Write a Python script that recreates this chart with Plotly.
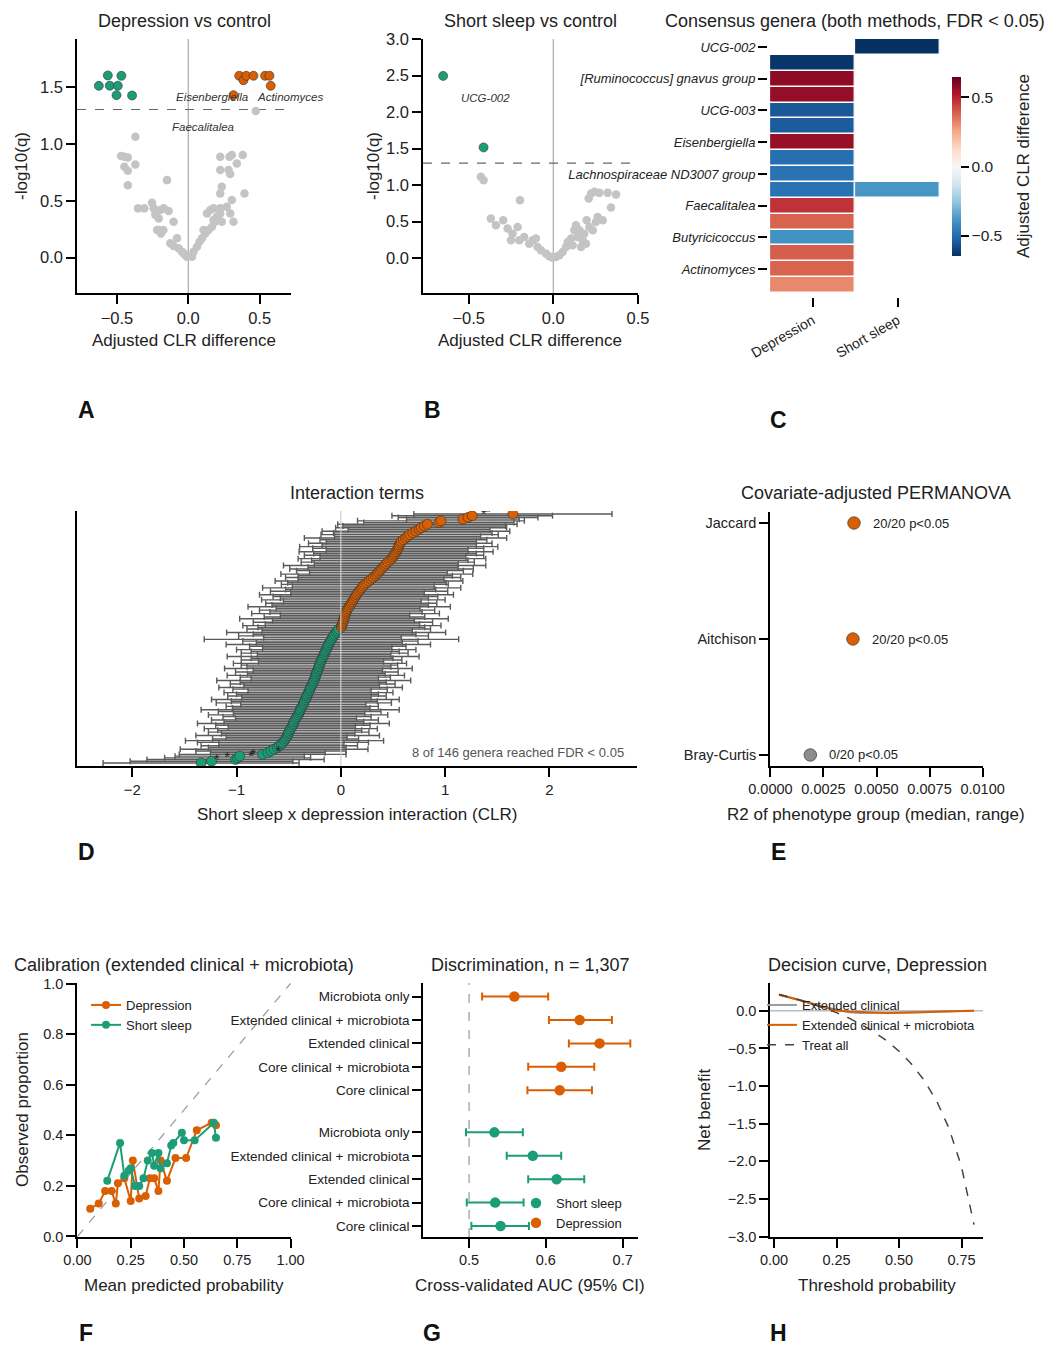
import plotly.graph_objects as go
import plotly.colors as pc

W, H = 1054, 1355
FONT = "Liberation Sans, Arial, sans-serif"
GREEN, ORANGE, GREY = "#1b9e77", "#d95f02", "#c4c4c4"

# ---------------- Panel A: Depression vs control volcano ----------------
a_grey_x = [-0.371, -0.471, -0.448, -0.424, -0.448, -0.424, -0.371, -0.424, -0.149, -0.352, -0.308, -0.254,
            -0.242, -0.23, -0.196, -0.172, -0.138, -0.207, -0.23, -0.103, -0.207, -0.175, -0.219, -0.191,
            -0.126, -0.079, -0.103, -0.068, -0.044, -0.021, -0.009, -0.033, 0.026, 0.037, 0.061, 0.079,
            0.096, 0.119, 0.142, 0.107, 0.166, 0.189, 0.2, 0.224, 0.154, 0.131, 0.177, 0.224, 0.27, 0.235,
            0.224, 0.235, 0.317, 0.294, 0.224, 0.224, 0.289, 0.305, 0.282, 0.294, 0.34, 0.382, 0.394, 0.305,
            0.177, 0.473]
a_grey_y = [1.061, 0.892, 0.886, 0.880, 0.798, 0.763, 0.819, 0.637, 0.681, 0.433, 0.433, 0.482,
            0.433, 0.389, 0.418, 0.433, 0.409, 0.345, 0.374, 0.316, 0.243, 0.243, 0.243, 0.213,
            0.126, 0.170, 0.102, 0.082, 0.053, 0.023, 0.009, 0.038, 0.009, 0.053, 0.096, 0.14,
            0.170, 0.213, 0.243, 0.243, 0.272, 0.316, 0.36, 0.389, 0.418, 0.389, 0.433, 0.433, 0.447, 0.316,
            0.564, 0.623, 0.316, 0.389, 0.769, 0.886, 0.886, 0.901, 0.769, 0.734, 0.827, 0.901, 0.564, 0.506,
            0.33, 1.287]
a_down_x = [-0.627, -0.564, -0.55, -0.494, -0.469, -0.503, -0.394]
a_down_y = [1.509, 1.60, 1.51, 1.51, 1.597, 1.427, 1.424]
a_up_x = [0.317, 0.357, 0.387, 0.406, 0.457, 0.538, 0.569, 0.578]
a_up_y = [1.427, 1.597, 1.558, 1.597, 1.597, 1.597, 1.597, 1.509]
a_labels = ["Eisenbergiella", "Actinomyces", "Faecalitalea", "Hungatella"]
a_label_x = [0.168, 0.71, 0.105, 0.91]
a_label_y = [1.41, 1.41, 1.15, 1.15]

# ---------------- Panel B: Short sleep vs control volcano ----------------
b_grey_x = [-0.428, -0.412, -0.197, -0.369, -0.339, -0.296, -0.270, -0.241, -0.211, -0.25, -0.201, -0.172,
            -0.122, -0.103, -0.142, -0.093, -0.073, -0.043, -0.024, -0.004, 0.016, 0.036, 0.055, 0.075,
            0.085, 0.105, 0.124, 0.134, 0.154, 0.144, 0.174, 0.183, 0.197, 0.213, 0.233, 0.252, 0.292,
            0.209, 0.223, 0.243, 0.272, 0.321, 0.371, 0.341, 0.262, 0.164, 0.114, 0.193]
b_grey_y = [1.113, 1.067, 0.792, 0.54, 0.449, 0.517, 0.403, 0.334, 0.426, 0.243, 0.243, 0.289,
            0.243, 0.266, 0.197, 0.151, 0.105, 0.06, 0.023, 0.005, 0.014, 0.037, 0.082, 0.151,
            0.220, 0.266, 0.38, 0.449, 0.38, 0.289, 0.243, 0.334, 0.517, 0.426, 0.38, 0.495, 0.517,
            0.815, 0.884, 0.907, 0.893, 0.893, 0.870, 0.692, 0.563, 0.151, 0.174, 0.197]
b_down_x = [-0.651, -0.412]
b_down_y = [2.497, 1.516]
b_labels = ["UCG-002", "Lachnospiraceae UCG-010"]
b_label_x = [-0.40, -0.94]
b_label_y = [2.2, 1.22]

# ---------------- Panel C: consensus heatmap ----------------
heat_genera = ["UCG-002", "Lachnospiraceae FCS020 group", "[Ruminococcus] gnavus group", "Hungatella",
               "UCG-003", "Coprococcus", "Eisenbergiella", "Ruminococcaceae UCG-014",
               "Lachnospiraceae ND3007 group", "Lachnospiraceae UCG-010", "Faecalitalea",
               "Erysipelatoclostridium", "Butyricicoccus", "Flavonifractor", "Actinomyces", "Sellimonas"]
heat_groups = ["Depression", "Short sleep"]
heat_dep = [None, -0.63, 0.58, 0.57, -0.55, -0.54, 0.56, -0.49, -0.48, -0.48, 0.47, 0.38, -0.39, 0.39, 0.38, 0.31]
heat_ss = [-0.65, None, None, None, None, None, None, None, None, -0.38, None, None, None, None, None, None]

# ---------------- Panel D: interaction terms ----------------
d_est = [-1.34, -1.24, -1.01, -0.99, -0.97, -0.75, -0.70, -0.67, -0.64, -0.61,
         -0.59, -0.57, -0.555, -0.54, -0.53, -0.52, -0.51, -0.505, -0.50, -0.49,
         -0.48, -0.47, -0.46, -0.455, -0.45, -0.44, -0.43, -0.42, -0.41, -0.40,
         -0.395, -0.39, -0.38, -0.37, -0.36, -0.355, -0.35, -0.34, -0.33, -0.325,
         -0.32, -0.31, -0.30, -0.295, -0.29, -0.28, -0.27, -0.265, -0.26, -0.25,
         -0.245, -0.24, -0.235, -0.23, -0.22, -0.215, -0.21, -0.205, -0.20, -0.19,
         -0.185, -0.18, -0.17, -0.16, -0.155, -0.15, -0.14, -0.13, -0.125, -0.12,
         -0.11, -0.10, -0.09, -0.08, -0.07, -0.06, -0.045, -0.035, -0.02, 0.005,
         0.01, 0.015, 0.02, 0.025, 0.03, 0.035, 0.04, 0.045, 0.05, 0.06,
         0.07, 0.08, 0.09, 0.10, 0.11, 0.12, 0.13, 0.14, 0.15, 0.16,
         0.175, 0.19, 0.20, 0.215, 0.23, 0.25, 0.27, 0.29, 0.31, 0.33,
         0.345, 0.36, 0.375, 0.39, 0.405, 0.42, 0.435, 0.45, 0.47, 0.49,
         0.50, 0.51, 0.52, 0.53, 0.54, 0.55, 0.555, 0.56, 0.57, 0.58,
         0.60, 0.62, 0.64, 0.66, 0.69, 0.72, 0.75, 0.77, 0.80, 0.83,
         0.94, 0.96, 1.17, 1.22, 1.26, 1.65]
d_hw = [0.94, 0.78, 0.85, 0.70, 0.62, 0.80, 0.55, 0.72, 0.90, 0.66,
        0.75, 0.60, 0.82, 0.95, 0.70, 0.58, 0.88, 0.64, 0.77, 0.69,
        0.83, 0.61, 0.74, 0.92, 0.67, 0.80, 0.58, 0.71, 0.86, 0.63,
        0.78, 0.95, 0.66, 0.73, 0.60, 0.84, 0.70, 0.90, 0.62, 0.76,
        0.68, 0.81, 0.59, 0.74, 0.88, 0.65, 0.79, 0.70, 0.93, 0.61,
        0.72, 0.85, 0.66, 0.78, 0.62, 0.90, 0.69, 0.75, 0.83, 0.60,
        0.77, 0.68, 0.92, 0.64, 0.80, 0.71, 0.86, 0.62, 0.75, 0.98,
        0.70, 0.84, 1.22, 0.66, 0.91, 0.78, 1.05, 0.72, 0.88, 0.80,
        0.95, 0.74, 0.86, 0.68, 1.00, 0.77, 0.62, 0.90, 0.73, 0.84,
        0.69, 0.97, 0.75, 0.82, 0.66, 0.88, 0.71, 0.79, 0.93, 0.64,
        0.85, 0.72, 0.95, 0.68, 0.80, 0.76, 0.90, 0.70, 0.84, 0.74,
        0.92, 0.66, 0.80, 0.88, 0.72, 0.97, 0.69, 0.83, 0.75, 0.90,
        0.70, 0.86, 0.78, 0.93, 0.68, 0.82, 0.95, 0.74, 0.88, 0.72,
        0.80, 0.97, 0.70, 0.85, 0.76, 0.90, 0.68, 0.82, 0.78, 0.86,
        0.72, 0.80, 0.54, 0.67, 0.77, 0.95]
d_sig_rows = [0, 1, 2, 3, 5, 143, 144, 145]
d_note = "8 of 146 genera reached FDR < 0.05"

# ---------------- Panel E: PERMANOVA ----------------
e_metrics = ["Bray-Curtis", "Aitchison", "Jaccard"]
e_median = [0.00188, 0.00389, 0.00394]
e_min = [0.00176, 0.00372, 0.00378]
e_max = [0.00200, 0.00405, 0.00410]
e_nsig = [0, 20, 20]
e_nrep = 20

# ---------------- Panel F: calibration ----------------
f_dep_x = [0.06, 0.10, 0.13, 0.16, 0.18, 0.19, 0.22, 0.25, 0.26, 0.29, 0.32, 0.34, 0.36, 0.38, 0.39, 0.42,
           0.46, 0.51, 0.56, 0.63, 0.65]
f_dep_y = [0.11, 0.13, 0.18, 0.18, 0.13, 0.21, 0.23, 0.14, 0.30, 0.15, 0.16, 0.23, 0.23, 0.18, 0.30, 0.22,
           0.31, 0.31, 0.42, 0.45, 0.44]
f_ss_x = [0.14, 0.20, 0.22, 0.24, 0.25, 0.27, 0.29, 0.31, 0.33, 0.35, 0.36, 0.38, 0.39, 0.42, 0.44, 0.45,
          0.49, 0.50, 0.55, 0.64, 0.65]
f_ss_y = [0.22, 0.37, 0.24, 0.26, 0.27, 0.20, 0.20, 0.23, 0.30, 0.33, 0.28, 0.33, 0.27, 0.29, 0.36, 0.37,
          0.41, 0.38, 0.38, 0.45, 0.39]

# ---------------- Panel G: discrimination ----------------
g_models = ["Core clinical", "Core clinical + microbiota", "Extended clinical",
            "Extended clinical + microbiota", "Microbiota only"]
g_dep_auc = [0.618, 0.620, 0.670, 0.644, 0.559]
g_dep_lo = [0.576, 0.577, 0.630, 0.604, 0.517]
g_dep_hi = [0.660, 0.663, 0.710, 0.686, 0.603]
g_ss_auc = [0.541, 0.534, 0.614, 0.583, 0.533]
g_ss_lo = [0.503, 0.497, 0.577, 0.549, 0.496]
g_ss_hi = [0.578, 0.571, 0.650, 0.620, 0.570]

# ---------------- Panel H: decision curve ----------------
h_thr = [0.02, 0.05, 0.10, 0.15, 0.20, 0.25, 0.30, 0.35, 0.40, 0.45, 0.50, 0.55, 0.60, 0.65, 0.70, 0.75, 0.80]
h_ext = [0.216, 0.19, 0.15, 0.10, 0.05, 0.01, -0.02, -0.03, -0.03, -0.03, -0.02, -0.02, -0.02, -0.01, -0.01,
         -0.01, 0.0]
h_extmic = [0.215, 0.19, 0.145, 0.095, 0.045, 0.005, -0.01, -0.02, -0.025, -0.03, -0.025, -0.02, -0.02,
            -0.015, -0.01, -0.005, 0.0]
h_all = [0.216, 0.192, 0.147, 0.096, 0.040, -0.024, -0.097, -0.182, -0.280, -0.396, -0.536, -0.707, -0.920,
         -1.194, -1.560, -2.072, -2.840]

# =====================================================================
def xd(a, b):
    return [a / W, b / W]


def yd(top, bottom):
    return [1 - bottom / H, 1 - top / H]


def ax(**kw):
    d = dict(showline=True, linecolor="black", linewidth=1.6, ticks="outside", ticklen=9, tickwidth=1.8,
             tickcolor="black", showgrid=False, zeroline=False, mirror=False, automargin=False,
             tickfont=dict(size=15, color="#222", family=FONT))
    d.update(kw)
    return d


fig = go.Figure()

# Panel A
fig.add_trace(go.Scatter(x=a_grey_x, y=a_grey_y, mode="markers", marker=dict(size=8.5, color=GREY),
                         xaxis="x", yaxis="y", showlegend=False))
fig.add_trace(go.Scatter(x=a_down_x, y=a_down_y, mode="markers",
                         marker=dict(size=9, color=GREEN, line=dict(width=0.6, color="#333")),
                         xaxis="x", yaxis="y", showlegend=False))
fig.add_trace(go.Scatter(x=a_up_x, y=a_up_y, mode="markers",
                         marker=dict(size=9, color=ORANGE, line=dict(width=0.6, color="#333")),
                         xaxis="x", yaxis="y", showlegend=False))

# Panel B
fig.add_trace(go.Scatter(x=b_grey_x, y=b_grey_y, mode="markers", marker=dict(size=8.5, color=GREY),
                         xaxis="x2", yaxis="y2", showlegend=False))
fig.add_trace(go.Scatter(x=b_down_x, y=b_down_y, mode="markers",
                         marker=dict(size=9, color=GREEN, line=dict(width=0.6, color="#333")),
                         xaxis="x2", yaxis="y2", showlegend=False))

# Panel C
rdbu_r = pc.diverging.RdBu[::-1]
cscale = [[i / (len(rdbu_r) - 1), c] for i, c in enumerate(rdbu_r)]
z = [[heat_dep[i], heat_ss[i]] for i in range(len(heat_genera))]
fig.add_trace(go.Heatmap(
    z=z, x=[0, 1], y=list(range(len(heat_genera))), colorscale=cscale, zmin=-0.645, zmax=0.645,
    xgap=1.5, ygap=1.5, xaxis="x3", yaxis="y3", hoverongaps=False,
    colorbar=dict(x=952 / W, xanchor="left", xpad=0, y=1 - 166.5 / H, yanchor="middle", ypad=0,
                  len=179, lenmode="pixels", thickness=9, thicknessmode="pixels", outlinewidth=0,
                  ticks="outside", ticklen=8, tickwidth=1.8, tickcolor="black",
                  tickvals=[-0.5, 0, 0.5], ticktext=["\u22120.5", "0.0", "0.5"],
                  tickfont=dict(size=15.5, color="#222", family=FONT))))

# Panel D
rows = list(range(len(d_est)))
fig.add_trace(go.Scatter(x=d_est, y=rows, mode="markers", marker=dict(size=2, color="rgba(0,0,0,0)"),
                         error_x=dict(type="data", array=d_hw, color="#5a5a5a", thickness=1.4, width=3),
                         xaxis="x4", yaxis="y4", showlegend=False, hoverinfo="skip"))
neg = [i for i in rows if d_est[i] < 0]
pos = [i for i in rows if d_est[i] >= 0]
fig.add_trace(go.Scatter(x=[d_est[i] for i in neg], y=neg, mode="markers",
                         marker=dict(size=10, color=GREEN, line=dict(width=0.6, color="#333")),
                         xaxis="x4", yaxis="y4", showlegend=False))
fig.add_trace(go.Scatter(x=[d_est[i] for i in pos], y=pos, mode="markers",
                         marker=dict(size=10, color=ORANGE, line=dict(width=0.6, color="#333")),
                         xaxis="x4", yaxis="y4", showlegend=False))
fig.add_trace(go.Scatter(x=[d_est[i] + 0.15 for i in d_sig_rows], y=[i + 1.5 for i in d_sig_rows],
                         mode="text", text=["*"] * len(d_sig_rows), textposition="middle center",
                         textfont=dict(size=15, color="#222", family=FONT),
                         xaxis="x4", yaxis="y4", showlegend=False))

# Panel E
e_y = list(range(len(e_metrics)))
e_col = [ORANGE if n > e_nrep / 2 else "#8c8c8c" for n in e_nsig]
fig.add_trace(go.Scatter(x=e_median, y=e_y, mode="markers",
                         marker=dict(size=12.5, color=e_col, line=dict(width=0.8, color="#444")),
                         error_x=dict(type="data", array=[e_max[i] - e_median[i] for i in e_y],
                                      arrayminus=[e_median[i] - e_min[i] for i in e_y],
                                      color="#666", thickness=1.5, width=0),
                         xaxis="x5", yaxis="y5", showlegend=False))

# Panel F
fig.add_trace(go.Scatter(x=f_dep_x, y=f_dep_y, mode="lines+markers", name="Depression",
                         line=dict(color=ORANGE, width=2), marker=dict(size=8, color=ORANGE),
                         xaxis="x6", yaxis="y6", legend="legend"))
fig.add_trace(go.Scatter(x=f_ss_x, y=f_ss_y, mode="lines+markers", name="Short sleep",
                         line=dict(color=GREEN, width=2), marker=dict(size=8, color=GREEN),
                         xaxis="x6", yaxis="y6", legend="legend"))

# Panel G
g_pos_ss = [float(i) for i in range(len(g_models))]
g_pos_dep = [len(g_models) + 0.8 + i for i in range(len(g_models))]
fig.add_trace(go.Scatter(x=g_dep_auc, y=g_pos_dep, mode="markers", name="Depression",
                         marker=dict(size=10.5, color=ORANGE),
                         error_x=dict(type="data", array=[g_dep_hi[i] - g_dep_auc[i] for i in range(5)],
                                      arrayminus=[g_dep_auc[i] - g_dep_lo[i] for i in range(5)],
                                      color=ORANGE, thickness=2, width=4),
                         xaxis="x7", yaxis="y7", legend="legend2", legendrank=2))
fig.add_trace(go.Scatter(x=g_ss_auc, y=g_pos_ss, mode="markers", name="Short sleep",
                         marker=dict(size=10.5, color=GREEN),
                         error_x=dict(type="data", array=[g_ss_hi[i] - g_ss_auc[i] for i in range(5)],
                                      arrayminus=[g_ss_auc[i] - g_ss_lo[i] for i in range(5)],
                                      color=GREEN, thickness=2, width=4),
                         xaxis="x7", yaxis="y7", legend="legend2", legendrank=1))

# Panel H
fig.add_trace(go.Scatter(x=h_thr, y=h_ext, mode="lines", name="Extended clinical",
                         line=dict(color="#9a9a9a", width=2), xaxis="x8", yaxis="y8", legend="legend3"))
fig.add_trace(go.Scatter(x=h_thr, y=h_extmic, mode="lines", name="Extended clinical + microbiota",
                         line=dict(color=ORANGE, width=2), xaxis="x8", yaxis="y8", legend="legend3"))
fig.add_trace(go.Scatter(x=h_thr, y=h_all, mode="lines", name="Treat all",
                         line=dict(color="#444", width=1.5, dash="dash"), xaxis="x8", yaxis="y8",
                         legend="legend3"))

# ---------------- shapes ----------------
shapes = [
    dict(type="line", xref="x", yref="y domain", x0=0, x1=0, y0=0, y1=1, line=dict(color="#aaaaaa", width=1.2),
         layer="below"),
    dict(type="line", xref="x domain", yref="y", x0=0, x1=1, y0=1.301, y1=1.301,
         line=dict(color="#666", width=1.2, dash="dash"), layer="below"),
    dict(type="line", xref="x2", yref="y2 domain", x0=0, x1=0, y0=0, y1=1, line=dict(color="#aaaaaa", width=1.2),
         layer="below"),
    dict(type="line", xref="x2 domain", yref="y2", x0=0, x1=1, y0=1.301, y1=1.301,
         line=dict(color="#666", width=1.2, dash="dash"), layer="below"),
    dict(type="line", xref="x4", yref="y4 domain", x0=0, x1=0, y0=0, y1=1, line=dict(color="#cfcfcf", width=1.2),
         layer="above"),
    dict(type="line", xref="x6", yref="y6", x0=0, x1=1, y0=0, y1=1,
         line=dict(color="#999", width=1.2, dash="dash"), layer="below"),
    dict(type="line", xref="x7", yref="y7 domain", x0=0.5, x1=0.5, y0=0, y1=1,
         line=dict(color="#999", width=1.2, dash="dash"), layer="below"),
    dict(type="line", xref="x8 domain", yref="y8", x0=0, x1=1, y0=0, y1=0,
         line=dict(color="#b4c0cc", width=1.5), layer="below"),
]

# ---------------- annotations ----------------
ann = []


def txt(x, y, s, size=17, **kw):
    d = dict(x=x / W, y=1 - y / H, xref="paper", yref="paper", text=s, showarrow=False,
             font=dict(size=size, color="#222", family=FONT), xanchor="center", yanchor="middle")
    d.update(kw)
    ann.append(d)


# titles
txt(184, 21, "Depression vs control", 18)
txt(530, 21, "Short sleep vs control", 18)
txt(855, 21, "Consensus genera (both methods, FDR < 0.05)", 18)
txt(357, 493, "Interaction terms", 18)
txt(876, 493, "Covariate-adjusted PERMANOVA", 18)
txt(184, 965, "Calibration (extended clinical + microbiota)", 18)
txt(530, 965, "Discrimination, n = 1,307", 18)
txt(877, 965, "Decision curve, Depression", 18)
# axis labels
txt(184, 341, "Adjusted CLR difference")
txt(530, 341, "Adjusted CLR difference")
txt(21, 166, "-log10(q)", textangle=-90)
txt(373, 166, "-log10(q)", textangle=-90)
txt(1023, 166, "Adjusted CLR difference", textangle=-90)
txt(357, 814, "Short sleep x depression interaction (CLR)")
txt(876, 814, "R2 of phenotype group (median, range)")
txt(184, 1285, "Mean predicted probability")
txt(22, 1110, "Observed proportion", textangle=-90)
txt(530, 1285, "Cross-validated AUC (95% CI)")
txt(877, 1285, "Threshold probability")
txt(704, 1110, "Net benefit", textangle=-90)
txt(626, 752, d_note, 13, xanchor="right", font=dict(size=13, color="#555", family=FONT))
# panel letters
for L, (px, py) in zip("ABCDEFGH", [(86, 410), (432, 410), (778, 420), (86, 852), (778, 852),
                                     (86, 1333), (432, 1333), (778, 1333)]):
    txt(px, py, "<b>%s</b>" % L, 23, font=dict(size=23, color="#111", family=FONT))

# volcano labels (data coordinates)
for s, x, y in zip(a_labels, a_label_x, a_label_y):
    ann.append(dict(x=x, y=y, xref="x", yref="y", text="<i>%s</i>" % s, showarrow=False,
                    font=dict(size=11.5, color="#333", family=FONT)))
for s, x, y in zip(b_labels, b_label_x, b_label_y):
    ann.append(dict(x=x, y=y, xref="x2", yref="y2", text="<i>%s</i>" % s, showarrow=False,
                    font=dict(size=11.5, color="#333", family=FONT)))
# PERMANOVA labels
for i in e_y:
    ann.append(dict(x=e_median[i] + 0.0008, y=i, xref="x5", yref="y5", xanchor="left",
                    text="%d/%d p<0.05" % (e_nsig[i], e_nrep), showarrow=False,
                    font=dict(size=13, color="#222", family=FONT)))

leg = dict(bgcolor="rgba(0,0,0,0)", font=dict(size=13, color="#222", family=FONT), xanchor="left",
           yanchor="top", tracegroupgap=0, itemwidth=30)

fig.update_layout(
    width=W, height=H, margin=dict(l=0, r=0, t=0, b=0, pad=0, autoexpand=False),
    paper_bgcolor="white", plot_bgcolor="white", font=dict(family=FONT, color="#222"),
    shapes=shapes, annotations=ann,
    legend=dict(leg, x=86 / W, y=1 - 990 / H),
    legend2=dict(leg, x=516 / W, y=1 - 1188 / H),
    legend3=dict(leg, x=762 / W, y=1 - 990 / H),
    # A
    xaxis=ax(domain=xd(77, 291), anchor="y", range=[-0.78, 0.72], tickvals=[-0.5, 0, 0.5], tickformat=".1f",
             tickfont=dict(size=16.5, color="#222", family=FONT)),
    yaxis=ax(domain=yd(39, 293), anchor="x", range=[-0.31, 1.92], tickvals=[0, 0.5, 1, 1.5], tickformat=".1f",
             tickfont=dict(size=16.5, color="#222", family=FONT)),
    # B
    xaxis2=ax(domain=xd(423, 638), anchor="y2", range=[-0.77, 0.5005], tickvals=[-0.5, 0, 0.5],
              tickformat=".1f", tickfont=dict(size=16.5, color="#222", family=FONT)),
    yaxis2=ax(domain=yd(39, 293), anchor="x2", range=[-0.48, 3.003], tickvals=[0, 0.5, 1, 1.5, 2, 2.5, 3],
              tickformat=".1f", tickfont=dict(size=16.5, color="#222", family=FONT)),
    # C
    xaxis3=ax(domain=xd(768, 940), anchor="y3", range=[-0.525, 1.5], tickvals=[0, 1], ticktext=heat_groups,
              tickangle=-30, showline=False, tickfont=dict(size=14, color="#222", family=FONT)),
    yaxis3=ax(domain=yd(39, 297), anchor="x3", range=[15.75, -0.5],
              tickvals=list(range(0, len(heat_genera), 2)), ticktext=heat_genera[::2], showline=False,
              tickfont=dict(size=13, color="#222", family=FONT, style="italic")),
    # D
    xaxis4=ax(domain=xd(77, 637), anchor="y4", range=[-2.53, 2.84], tickvals=[-2, -1, 0, 1, 2]),
    yaxis4=ax(domain=yd(511, 766), anchor="x4", range=[-1.75, 146.75], showticklabels=False, ticks=""),
    # E
    xaxis5=ax(domain=xd(770, 983), anchor="y5", range=[-0.00002, 0.01002],
              tickvals=[0, 0.0025, 0.005, 0.0075, 0.01], tickformat=".4f",
              tickfont=dict(size=14.5, color="#222", family=FONT)),
    yaxis5=ax(domain=yd(512, 766), anchor="x5", range=[-0.095, 2.095], tickvals=e_y, ticktext=e_metrics,
              tickfont=dict(size=14.5, color="#222", family=FONT)),
    # F
    xaxis6=ax(domain=xd(77, 291), anchor="y6", range=[-0.002, 1.002], tickvals=[0, 0.25, 0.5, 0.75, 1],
              tickformat=".2f", tickfont=dict(size=14.5, color="#222", family=FONT)),
    yaxis6=ax(domain=yd(983, 1237), anchor="x6", range=[-0.002, 1.002], tickvals=[0, 0.2, 0.4, 0.6, 0.8, 1],
              tickformat=".1f", tickfont=dict(size=14.5, color="#222", family=FONT)),
    # G
    xaxis7=ax(domain=xd(423, 638), anchor="y7", range=[0.44, 0.72], tickvals=[0.5, 0.6, 0.7], tickformat=".1f",
              tickfont=dict(size=14.5, color="#222", family=FONT)),
    yaxis7=ax(domain=yd(983, 1237), anchor="x7", range=[-0.47, 10.38], tickvals=g_pos_ss + g_pos_dep,
              ticktext=g_models + g_models, tickfont=dict(size=13.5, color="#222", family=FONT)),
    # H
    xaxis8=ax(domain=xd(770, 983), anchor="y8", range=[-0.016, 0.836], tickvals=[0, 0.25, 0.5, 0.75],
              tickformat=".2f", tickfont=dict(size=14.5, color="#222", family=FONT)),
    yaxis8=ax(domain=yd(983, 1237), anchor="x8", range=[-3.005, 0.37],
              tickvals=[-3, -2.5, -2, -1.5, -1, -0.5, 0], tickformat=".1f",
              tickfont=dict(size=14.5, color="#222", family=FONT)),
)

fig.write_html("out.html", post_script="document.body.style.margin='0px';document.body.style.overflow='hidden';")
